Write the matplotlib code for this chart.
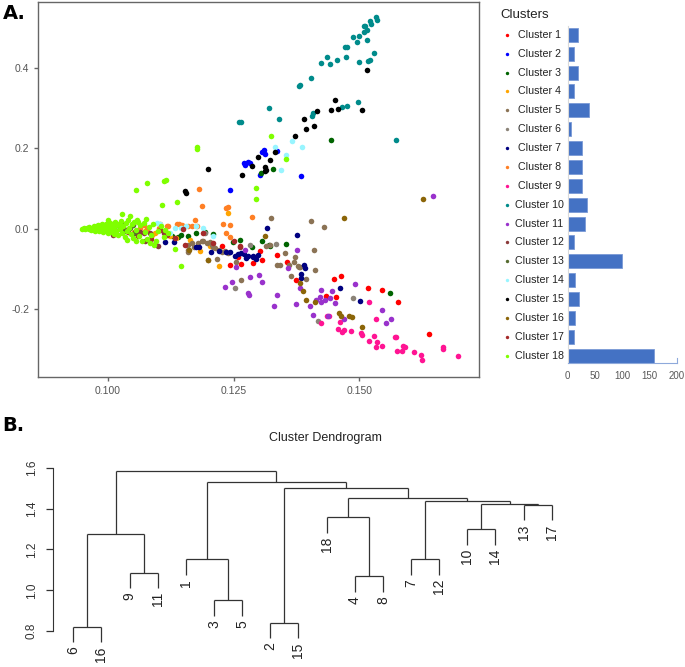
import matplotlib
matplotlib.use("Agg")
import matplotlib.pyplot as plt

plt.rcParams['font.family'] = ['Liberation Sans', 'DejaVu Sans']

# ---- panel A: PCA-like scatter, one list of (x, y) per cluster ----
c1 = [(0.1258, -0.0697), (0.1243, -0.0896), (0.1265, -0.0871), (0.1289, -0.0846), (0.1303, -0.0547),
      (0.1306, -0.0771), (0.1337, -0.0647), (0.1373, -0.1276), (0.1449, -0.1244), (0.1464, -0.1177),
      (0.1434, -0.1667), (0.1454, -0.1707), (0.1517, -0.1483), (0.1544, -0.1525), (0.1576, -0.1831),
      (0.1639, -0.2627), (0.1356, -0.0828), (0.1227, -0.0430)]
c2 = [(0.1311, 0.1958), (0.1313, 0.1859), (0.1337, 0.1916), (0.1271, 0.1627), (0.1273, 0.1567),
      (0.1279, 0.1652), (0.1303, 0.1319), (0.1384, 0.1304), (0.1242, 0.0955), (0.1283, 0.1635),
      (0.1307, 0.1908)]
c3 = [(0.1127, -0.0182), (0.1139, -0.0219), (0.1160, -0.0182), (0.1194, -0.0075), (0.1248, -0.0331),
      (0.1287, -0.0448), (0.1306, -0.0313), (0.1320, -0.0406), (0.1322, -0.0423), (0.1444, 0.2207),
      (0.1329, 0.1468), (0.1304, 0.1386), (0.1561, -0.1607), (0.1209, -0.0132), (0.1175, -0.0107),
      (0.1146, -0.0157), (0.1263, -0.0280), (0.1354, -0.0380)]
c4 = [(0.1087, -0.0157), (0.1093, -0.0114), (0.1220, -0.0928), (0.1183, -0.0547), (0.1052, -0.0082),
      (0.1074, -0.0057), (0.1124, -0.0182), (0.1164, -0.0281), (0.1203, -0.0430), (0.1239, 0.0390),
      (0.1136, -0.0231)]
c5 = [(0.1160, -0.0406), (0.1167, -0.0363), (0.1172, -0.0448), (0.1187, -0.0323), (0.1197, -0.0363),
      (0.1203, -0.0338), (0.1207, -0.0406), (0.1213, -0.0488), (0.1220, -0.0530), (0.1227, -0.0572),
      (0.1233, -0.0555), (0.1238, -0.0597), (0.1160, -0.0530), (0.1159, -0.0572), (0.1200, -0.0779),
      (0.1217, -0.0754), (0.1255, -0.0821), (0.1265, -0.1276), (0.1315, -0.0430), (0.1322, -0.0406),
      (0.1324, 0.0266), (0.1352, -0.0597), (0.1371, -0.0704), (0.1336, -0.0896), (0.1342, -0.0911),
      (0.1360, -0.0911), (0.1377, -0.0928), (0.1382, -0.0960), (0.1380, -0.0960), (0.1363, -0.1177),
      (0.1394, -0.1244), (0.1412, -0.1035), (0.1409, -0.0530), (0.1403, 0.0184), (0.1430, 0.0042),
      (0.1370, -0.0836), (0.1189, -0.0306), (0.1209, -0.0455), (0.1179, -0.0356)]
c6 = [(0.1252, -0.1483), (0.1417, -0.2289), (0.1487, -0.1732), (0.1193, -0.0110), (0.1283, -0.0406),
      (0.1334, -0.0380)]
c7 = [(0.1114, -0.0343), (0.1132, -0.0343), (0.1175, -0.0448), (0.1181, -0.0448), (0.1205, -0.0572),
      (0.1220, -0.0547), (0.1235, -0.0572), (0.1258, -0.0637), (0.1265, -0.0597), (0.1275, -0.0736),
      (0.1279, -0.0679), (0.1288, -0.0712), (0.1289, -0.0679), (0.1316, 0.0017), (0.1376, -0.0164),
      (0.1389, -0.0903), (0.1384, -0.1135), (0.1383, -0.1227), (0.1462, -0.1483), (0.1501, -0.1791),
      (0.1243, -0.0580), (0.1271, -0.0630), (0.1295, -0.0750), (0.1253, -0.0680), (0.1392, -0.0980),
      (0.1299, -0.0660)]
c8 = [(0.1182, 0.0988), (0.1187, 0.0572), (0.1235, 0.0508), (0.1238, 0.0547), (0.1173, 0.0209),
      (0.1228, 0.0109), (0.1243, 0.0092), (0.1051, 0.0109), (0.1104, 0.0109), (0.1117, 0.0050),
      (0.1120, 0.0050), (0.1142, 0.0109), (0.1147, 0.0092), (0.1160, 0.0067), (0.1177, 0.0067),
      (0.1234, -0.0114), (0.1242, -0.0199), (0.1287, 0.0284), (0.1064, 0.0010), (0.1077, -0.0015),
      (0.1071, 0.0092), (0.1137, 0.0109), (0.1101, 0.0010), (0.1167, 0.0050)]
c9 = [(0.1518, -0.1816), (0.1423, -0.2354), (0.1435, -0.2172), (0.1439, -0.2172), (0.1462, -0.2321),
      (0.1458, -0.2503), (0.1466, -0.2578), (0.1470, -0.2528), (0.1483, -0.2545), (0.1503, -0.2602),
      (0.1505, -0.2645), (0.1533, -0.2239), (0.1519, -0.2787), (0.1534, -0.2811), (0.1529, -0.2670),
      (0.1533, -0.2936), (0.1545, -0.2911), (0.1571, -0.2687), (0.1573, -0.2687), (0.1574, -0.3050),
      (0.1585, -0.3050), (0.1587, -0.2911), (0.1590, -0.2936), (0.1609, -0.3075), (0.1623, -0.3150),
      (0.1625, -0.3274), (0.1666, -0.2936), (0.1666, -0.3001), (0.1696, -0.3160)]
c10 = [(0.1533, 0.5250), (0.1535, 0.5175), (0.1521, 0.5150), (0.1523, 0.5090), (0.1508, 0.5036),
       (0.1511, 0.5026), (0.1515, 0.4926), (0.1508, 0.4887), (0.1499, 0.4787), (0.1488, 0.4752),
       (0.1495, 0.4645), (0.1515, 0.4687), (0.1472, 0.4503), (0.1476, 0.4503), (0.1529, 0.4364),
       (0.1473, 0.4264), (0.1456, 0.4197), (0.1436, 0.4264), (0.1424, 0.4123), (0.1441, 0.4098),
       (0.1499, 0.4140), (0.1517, 0.4165), (0.1521, 0.4197), (0.1403, 0.3749), (0.1382, 0.3558),
       (0.1379, 0.3533), (0.1321, 0.2986), (0.1264, 0.2655), (0.1340, 0.2712), (0.1498, 0.3145),
       (0.1475, 0.3053), (0.1466, 0.3021), (0.1408, 0.2871), (0.1405, 0.2787), (0.1573, 0.2207),
       (0.1261, 0.2647)]
c11 = [(0.1646, 0.0796), (0.1376, -0.0530), (0.1359, -0.0970), (0.1283, -0.1194), (0.1300, -0.1152),
       (0.1306, -0.1319), (0.1246, -0.1334), (0.1233, -0.1443), (0.1278, -0.1607), (0.1280, -0.1650),
       (0.1337, -0.1650), (0.1330, -0.1931), (0.1374, -0.1873), (0.1401, -0.1916), (0.1381, -0.1483),
       (0.1423, -0.1525), (0.1446, -0.1543), (0.1422, -0.1692), (0.1424, -0.1824), (0.1442, -0.1732),
       (0.1452, -0.1856), (0.1491, -0.1383), (0.1407, -0.2140), (0.1438, -0.2172), (0.1469, -0.2254),
       (0.1545, -0.2030), (0.1563, -0.2239), (0.1553, -0.2339), (0.1254, -0.0945), (0.1272, -0.0522),
       (0.1432, -0.1774), (0.1414, -0.1774)]
c12 = [(0.1010, -0.0157), (0.1024, -0.0015), (0.1032, -0.0015), (0.1054, -0.0075), (0.1064, -0.0075),
       (0.1071, -0.0114), (0.1083, -0.0114), (0.1093, -0.0388), (0.1099, -0.0423), (0.1073, -0.0323),
       (0.1112, -0.0100), (0.1262, -0.0448)]
c13 = [(0.0960, 0.001), (0.0972, -0.002), (0.0985, 0.003), (0.0995, -0.001), (0.1005, 0.004),
       (0.1015, -0.004), (0.1025, 0.006), (0.1035, -0.006), (0.1045, 0.002), (0.1055, -0.010),
       (0.0978, 0.005), (0.0990, -0.005), (0.1010, 0.009), (0.1030, 0.012), (0.1050, 0.008)]
c14 = [(0.1366, 0.2182), (0.1385, 0.2015), (0.1344, 0.1443), (0.1097, 0.0149), (0.1134, 0.0025),
       (0.1146, 0.0025), (0.1189, 0.0025), (0.1209, -0.0182), (0.1104, 0.0117), (0.1156, 0.0067),
       (0.1332, 0.2030), (0.1354, 0.1830), (0.1175, 0.0067), (0.1124, -0.0107)]
c15 = [(0.1514, 0.3931), (0.1451, 0.3185), (0.1444, 0.2953), (0.1458, 0.2971), (0.1506, 0.2953),
       (0.1415, 0.2921), (0.1389, 0.2712), (0.1409, 0.2548), (0.1393, 0.2463), (0.1371, 0.2299),
       (0.1298, 0.1776), (0.1286, 0.1552), (0.1267, 0.1329), (0.1313, 0.1535), (0.1314, 0.1460),
       (0.1313, 0.1436), (0.1332, 0.1891), (0.1322, 0.1702), (0.1199, 0.1485), (0.1155, 0.0881),
       (0.1154, 0.0938)]
c16 = [(0.1627, 0.0740), (0.1469, 0.0266), (0.1394, -0.1774), (0.1412, -0.1831), (0.1387, -0.1543),
       (0.1460, -0.2105), (0.1464, -0.2165), (0.1479, -0.2172), (0.1485, -0.2197), (0.1506, -0.2438),
       (0.1161, -0.0537), (0.1199, -0.0779), (0.1313, -0.0180), (0.1382, -0.1350)]
c17 = [(0.1040, -0.0082), (0.1104, -0.0032), (0.1134, -0.0239), (0.1154, -0.0406), (0.1262, -0.0440),
       (0.1250, -0.0300), (0.1118, -0.0150), (0.1085, -0.0260), (0.1190, -0.0100), (0.1060, -0.0180),
       (0.1210, -0.0350), (0.1150, 0.0000)]
c18 = [(0.1056, 0.0955), (0.1078, 0.1137), (0.1112, 0.1169), (0.1116, 0.1204), (0.1177, 0.2015),
       (0.1177, 0.1983), (0.1324, 0.2306), (0.1354, 0.1717), (0.1295, 0.0995), (0.1295, 0.0746),
       (0.1107, 0.0590), (0.1137, 0.0647), (0.1146, -0.0928), (0.1028, 0.0366), (0.1001, 0.0216),
       (0.1044, 0.0299), (0.1076, 0.0234), (0.1061, 0.0159), (0.1114, -0.0032), (0.1038, -0.0281),
       (0.1056, -0.0299), (0.1091, -0.0406), (0.1084, -0.0363), (0.1134, -0.0505),
       (0.0948, 0.000), (0.0952, 0.002), (0.0955, -0.002), (0.0958, 0.001), (0.0962, -0.001),
       (0.0963, 0.004), (0.0966, -0.004), (0.0968, 0.002), (0.0971, 0.000), (0.0972, 0.006),
       (0.0974, -0.005), (0.0976, 0.003), (0.0978, -0.002), (0.0980, 0.008), (0.0981, 0.001),
       (0.0983, -0.007), (0.0985, 0.004), (0.0986, -0.003), (0.0988, 0.010), (0.0990, 0.000),
       (0.0991, -0.009), (0.0993, 0.006), (0.0995, -0.004), (0.0997, 0.012), (0.0998, 0.002),
       (0.1000, -0.011), (0.1001, 0.007), (0.1003, -0.002), (0.1005, 0.014), (0.1006, 0.003),
       (0.1008, -0.008), (0.1010, 0.010), (0.1012, -0.013), (0.1013, 0.001), (0.1015, 0.016),
       (0.1017, -0.005), (0.1019, 0.008), (0.1021, -0.016), (0.1023, 0.012), (0.1025, -0.001),
       (0.1027, 0.018), (0.1029, -0.010), (0.1031, 0.005), (0.1034, -0.020), (0.1036, 0.014),
       (0.1038, -0.006), (0.1040, 0.020), (0.1043, 0.002), (0.1046, -0.014), (0.1048, 0.010),
       (0.1051, -0.024), (0.1053, 0.016), (0.1056, -0.003), (0.1059, 0.022), (0.1062, -0.018),
       (0.1065, 0.008), (0.1068, -0.030), (0.1071, 0.014), (0.1074, -0.008), (0.1078, -0.026),
       (0.1082, 0.004), (0.1086, -0.016), (0.1090, 0.012), (0.1095, -0.030), (0.1100, -0.006),
       (0.1105, 0.006), (0.1112, -0.020), (0.1120, -0.012)]

cluster_points = [c1, c2, c3, c4, c5, c6, c7, c8, c9, c10, c11, c12, c13, c14, c15, c16, c17, c18]
cluster_colors = ['#FF0000', '#0000FF', '#006400', '#FFA500', '#8B7355', '#8B8378',
                  '#000080', '#FF7F24', '#FF1493', '#008B8B', '#9932CC', '#8B3A3A',
                  '#556B2F', '#98F5FF', '#000000', '#8B6508', '#A52A2A', '#7FFF00']
cluster_names = [f'Cluster {i}' for i in range(1, 19)]
cluster_sizes = [18, 11, 18, 11, 39, 6, 26, 26, 27, 36, 32, 12, 100, 14, 20, 14, 12, 158]

# ---- panel B: dendrogram ----
leaf_order = [6, 16, 9, 11, 1, 3, 5, 2, 15, 18, 4, 8, 7, 12, 10, 14, 13, 17]
# (left, right, height); ints are cluster ids, 'mN' refers to merge N
merges = [
    (6, 16, 0.823),         # m0
    (2, 15, 0.841),         # m1
    (3, 5, 0.952),          # m2
    (4, 8, 1.069),          # m3
    (9, 11, 1.087),         # m4
    (1, 'm2', 1.152),       # m5
    (7, 12, 1.152),         # m6
    ('m0', 'm4', 1.276),    # m7
    (10, 14, 1.300),        # m8
    (18, 'm3', 1.359),      # m9
    (13, 17, 1.419),        # m10
    ('m8', 'm10', 1.423),   # m11
    ('m6', 'm11', 1.439),   # m12
    ('m9', 'm12', 1.453),   # m13
    ('m1', 'm13', 1.499),   # m14
    ('m5', 'm14', 1.532),   # m15
    ('m7', 'm15', 1.584),   # m16
]
dendro_ticks = [0.8, 1.0, 1.2, 1.4, 1.6]
hang = 0.076

fig = plt.figure(figsize=(6.85, 6.67), dpi=100)
tick_gray = '#555555'

# scatter
ax = fig.add_axes([0.0559, 0.4343, 0.6438, 0.5632])
for pts, col in zip(cluster_points, cluster_colors):
    ax.scatter([p[0] for p in pts], [p[1] for p in pts], s=16, color=col, linewidths=0)
ax.set_xlim(0.0862, 0.1738)
ax.set_ylim(-0.370, 0.564)
ax.set_xticks([0.100, 0.125, 0.150])
ax.set_xticklabels(['0.100', '0.125', '0.150'])
ax.set_yticks([-0.2, 0.0, 0.2, 0.4])
ax.set_yticklabels(['-0.2', '0.0', '0.2', '0.4'])
for s in ax.spines.values():
    s.set_color('#666666')
    s.set_linewidth(1.0)
ax.tick_params(colors='#666666', labelcolor=tick_gray, labelsize=7.5, length=3, width=1)

# cluster size bars with legend
bx = fig.add_axes([0.8288, 0.4562, 0.1591, 0.5044])
rows = list(range(len(cluster_sizes)))
bx.barh(rows, cluster_sizes, height=0.74, color='#4472C4', edgecolor='#7A9AD6', linewidth=0.6)
bx.set_xlim(0, 200)
bx.set_ylim(17.37, -0.45)
bx.set_xticks([0, 50, 100, 150, 200])
bx.set_yticks([])
bx.tick_params(axis='x', length=0, labelsize=7, labelcolor='#595959', pad=6)
bx.spines['top'].set_visible(False)
bx.spines['right'].set_visible(False)
bx.spines['left'].set_color('#D9D9D9')
bx.spines['bottom'].set_color('#8EA9DB')
bx.axvline(200, ymin=0, ymax=0.015, color='#8EA9DB', lw=0.8, clip_on=False)
ytr = bx.get_yaxis_transform()
for r, name, col in zip(rows, cluster_names, cluster_colors):
    bx.scatter([-0.554], [r], s=6, color=col, linewidths=0, transform=ytr, clip_on=False)
    bx.text(-0.263, r, name, transform=ytr, ha='center', va='center', fontsize=7.7, color='#222222')
fig.text(500 / 685, 1 - 15 / 667, 'Clusters', ha='left', va='center', fontsize=9.5, color='#222222')

# dendrogram
dx = fig.add_axes([0.0774, 0.0255, 0.7577, 0.2849])
leaf_x = {c: i + 1 for i, c in enumerate(leaf_order)}
node_x, node_h = {}, {}
line_kw = dict(color='#333333', lw=0.9, solid_capstyle='butt')
for k, (a, b, h) in enumerate(merges):
    xs = []
    for child in (a, b):
        if isinstance(child, int):
            cx = leaf_x[child]
            dx.plot([cx, cx], [h, h - hang], **line_kw)
            dx.text(cx, h - hang - 0.02, str(child), rotation=90, ha='center', va='top',
                    fontsize=10, color='#222222', clip_on=False)
        else:
            cx = node_x[child]
            dx.plot([cx, cx], [h, node_h[child]], **line_kw)
        xs.append(cx)
    dx.plot(xs, [h, h], **line_kw)
    node_x[f'm{k}'] = sum(xs) / 2
    node_h[f'm{k}'] = h
dx.set_xlim(0.28, 18.72)
dx.set_ylim(0.7086, 1.6377)
dx.set_xticks([])
dx.set_yticks(dendro_ticks)
dx.set_yticklabels([f'{t:.1f}' for t in dendro_ticks], rotation=90, va='center')
for side in ['top', 'right', 'bottom']:
    dx.spines[side].set_visible(False)
dx.spines['left'].set_bounds(0.8, 1.6)
dx.spines['left'].set_color('#333333')
dx.tick_params(axis='y', length=5, width=0.9, color='#333333', labelsize=8.5, labelcolor='#333333', pad=6)
fig.text(325 / 685, 1 - 438 / 667, 'Cluster Dendrogram', ha='center', va='center', fontsize=9, color='#222222')

# panel letters
fig.text(0.004, 1 - 19 / 667, 'A.', fontsize=14, fontweight='black', family='DejaVu Sans', va='baseline')
fig.text(0.004, 1 - 431 / 667, 'B.', fontsize=14, fontweight='black', family='DejaVu Sans', va='baseline')

fig.savefig('out.png', dpi=100)
